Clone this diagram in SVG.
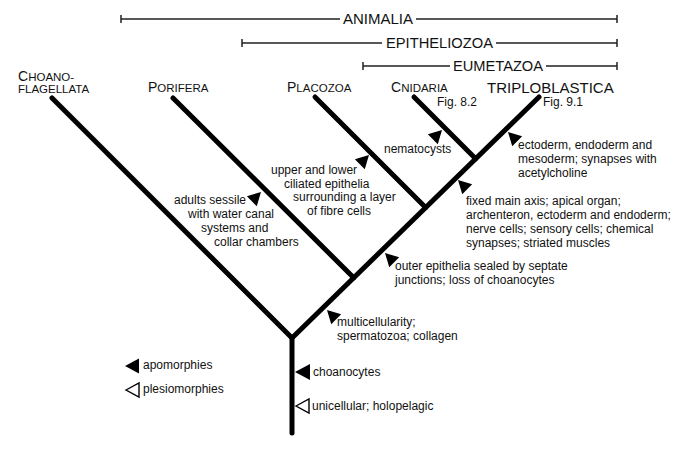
<svg xmlns="http://www.w3.org/2000/svg" width="689" height="461" viewBox="0 0 689 461">
<style>
text{font-family:"Liberation Sans",Arial,Helvetica,sans-serif;fill:#111}
.ann{font-size:12px}
.clade{font-size:14px}
.tx{font-size:11.5px}
.big{font-size:14px}
.trip{font-size:15px}
.bar{stroke:#222;stroke-width:1.5;fill:none}
.br{stroke:#000;stroke-width:5;stroke-linecap:round;fill:none}
.fill{fill:#000}
.open{fill:#fff;stroke:#000;stroke-width:1.4;stroke-linejoin:miter}
</style>
<defs>
<path id="tri" d="M0,0 L13,-7 L13,7 Z"/>
</defs>
<rect width="689" height="461" fill="#fff"/>

<g id="clade-bars">
<g id="animalia">
<path class="bar" d="M121,19 H340 M416,19 H617 M121,15 V23 M617,15 V23"/>
<text class="clade" x="343" y="24" textLength="70" lengthAdjust="spacingAndGlyphs">ANIMALIA</text>
</g>
<g id="epitheliozoa">
<path class="bar" d="M242,43 H382 M496,43 H617 M242,39 V47 M617,39 V47"/>
<text class="clade" x="386" y="48" textLength="107" lengthAdjust="spacingAndGlyphs">EPITHELIOZOA</text>
</g>
<g id="eumetazoa">
<path class="bar" d="M363,66 H450 M546,66 H617 M363,62 V70 M617,62 V70"/>
<text class="clade" x="453" y="71" textLength="90" lengthAdjust="spacingAndGlyphs">EUMETAZOA</text>
</g>
</g>

<g id="connectors">
<path class="br" d="M292,433 V338"/>
<path class="br" d="M292,338 L52,98"/>
<path class="br" d="M292,338 L539,97"/>
<path class="br" d="M353.7,277.7 L173,98"/>
<path class="br" d="M425.6,207.6 L315,97"/>
<path class="br" d="M475.7,158.7 L414,97"/>
</g>

<g id="taxon-choanoflagellata">
<text x="18" y="81"><tspan class="big">C</tspan><tspan class="tx">HOANO-</tspan></text>
<text class="tx" x="18" y="93">FLAGELLATA</text>
</g>
<g id="taxon-porifera">
<text x="148" y="92"><tspan class="big">P</tspan><tspan class="tx">ORIFERA</tspan></text>
</g>
<g id="taxon-placozoa">
<text x="287" y="92"><tspan class="big">P</tspan><tspan class="tx">LACOZOA</tspan></text>
</g>
<g id="taxon-cnidaria">
<text x="391" y="92"><tspan class="big">C</tspan><tspan class="tx">NIDARIA</tspan></text>
<text class="ann" x="437" y="106">Fig. 8.2</text>
</g>
<g id="taxon-triploblastica">
<text class="trip" x="487" y="93">TRIPLOBLASTICA</text>
<text class="ann" x="543" y="106">Fig. 9.1</text>
</g>

<g id="char-nematocysts">
<use href="#tri" class="fill" transform="translate(442,130) rotate(135)"/>
<text class="ann" x="384" y="153">nematocysts</text>
</g>
<g id="char-placozoa">
<use href="#tri" class="fill" transform="translate(369,155) rotate(135)"/>
<text class="ann"><tspan x="271" y="174">upper and lower</tspan><tspan x="284" y="187.5">ciliated epithelia</tspan><tspan x="293" y="201">surrounding a layer</tspan><tspan x="307" y="214.5">of fibre cells</tspan></text>
</g>
<g id="char-porifera">
<use href="#tri" class="fill" transform="translate(261,192) rotate(135)"/>
<text class="ann"><tspan x="174" y="204">adults sessile</tspan><tspan x="188" y="218">with water canal</tspan><tspan x="201" y="232">systems and</tspan><tspan x="214" y="246">collar chambers</tspan></text>
</g>
<g id="char-triploblastica">
<use href="#tri" class="fill" transform="translate(508,132) rotate(45)"/>
<text class="ann"><tspan x="518" y="149">ectoderm, endoderm and</tspan><tspan x="518" y="163">mesoderm; synapses with</tspan><tspan x="518" y="177">acetylcholine</tspan></text>
</g>
<g id="char-eumetazoa">
<use href="#tri" class="fill" transform="translate(458,180) rotate(45)"/>
<text class="ann"><tspan x="466" y="205">fixed main axis; apical organ;</tspan><tspan x="466" y="219">archenteron, ectoderm and endoderm;</tspan><tspan x="466" y="233">nerve cells; sensory cells; chemical</tspan><tspan x="466" y="247">synapses; striated muscles</tspan></text>
</g>
<g id="char-epitheliozoa">
<use href="#tri" class="fill" transform="translate(385,253) rotate(45)"/>
<text class="ann"><tspan x="395" y="270">outer epithelia sealed by septate</tspan><tspan x="395" y="284">junctions; loss of choanocytes</tspan></text>
</g>
<g id="char-animalia">
<use href="#tri" class="fill" transform="translate(327,310) rotate(45)"/>
<text class="ann"><tspan x="337" y="326">multicellularity;</tspan><tspan x="337" y="340">spermatozoa; collagen</tspan></text>
</g>
<g id="char-choanocytes">
<path class="fill" d="M295,372 L310,364 L310,380 Z"/>
<text class="ann" x="313" y="376">choanocytes</text>
</g>
<g id="char-unicellular">
<path class="open" d="M296,406 L309,399 L309,413 Z"/>
<text class="ann" x="312" y="410">unicellular; holopelagic</text>
</g>

<g id="legend">
<path class="fill" d="M125,366 L139,358.5 L139,373.5 Z"/>
<text class="ann" x="143" y="369">apomorphies</text>
<path class="open" d="M126,390 L139,383 L139,397 Z"/>
<text class="ann" x="143" y="393">plesiomorphies</text>
</g>
</svg>
